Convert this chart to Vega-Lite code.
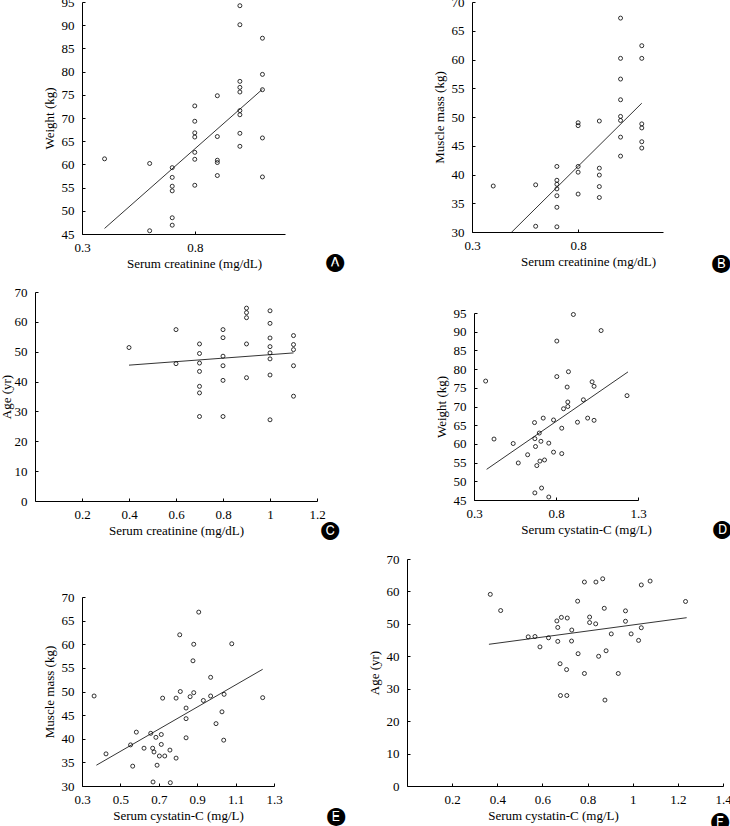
{
  "$schema": "https://vega.github.io/schema/vega-lite/v6.json",
  "padding": {"left": 0, "top": -4, "right": 0, "bottom": 0},
  "background": "white",
  "datasets": {
    "A": [
      {"x":0.4,"y":61.2},{"x":0.6,"y":60.2},{"x":0.6,"y":45.7},
      {"x":0.7,"y":59.3},{"x":0.7,"y":57.2},{"x":0.7,"y":55.3},{"x":0.7,"y":54.3},{"x":0.7,"y":48.5},{"x":0.7,"y":46.9},
      {"x":0.8,"y":72.6},{"x":0.8,"y":69.3},{"x":0.8,"y":66.8},{"x":0.8,"y":65.9},{"x":0.8,"y":62.6},{"x":0.8,"y":61.1},{"x":0.8,"y":55.5},
      {"x":0.9,"y":74.8},{"x":0.9,"y":66.0},{"x":0.9,"y":60.9},{"x":0.9,"y":60.4},{"x":0.9,"y":57.6},
      {"x":1.0,"y":94.2},{"x":1.0,"y":90.1},{"x":1.0,"y":77.9},{"x":1.0,"y":76.6},{"x":1.0,"y":75.6},{"x":1.0,"y":71.6},{"x":1.0,"y":70.7},{"x":1.0,"y":66.7},{"x":1.0,"y":63.9},
      {"x":1.1,"y":87.2},{"x":1.1,"y":79.4},{"x":1.1,"y":76.1},{"x":1.1,"y":65.7},{"x":1.1,"y":57.3}
    ],
    "A_fit": [{"x":0.4,"y":46.2},{"x":1.1,"y":76.2}],
    "B": [
      {"x":0.4,"y":38.0},{"x":0.6,"y":38.2},{"x":0.6,"y":31.0},
      {"x":0.7,"y":41.4},{"x":0.7,"y":39.0},{"x":0.7,"y":38.3},{"x":0.7,"y":37.5},{"x":0.7,"y":36.3},{"x":0.7,"y":34.3},{"x":0.7,"y":30.9},
      {"x":0.8,"y":49.0},{"x":0.8,"y":48.5},{"x":0.8,"y":41.4},{"x":0.8,"y":40.4},{"x":0.8,"y":36.6},
      {"x":0.9,"y":49.3},{"x":0.9,"y":41.1},{"x":0.9,"y":39.9},{"x":0.9,"y":37.9},{"x":0.9,"y":36.0},
      {"x":1.0,"y":67.2},{"x":1.0,"y":60.2},{"x":1.0,"y":56.6},{"x":1.0,"y":53.0},{"x":1.0,"y":50.1},{"x":1.0,"y":49.4},{"x":1.0,"y":46.5},{"x":1.0,"y":43.2},
      {"x":1.1,"y":62.4},{"x":1.1,"y":60.2},{"x":1.1,"y":48.8},{"x":1.1,"y":48.1},{"x":1.1,"y":45.7},{"x":1.1,"y":44.6}
    ],
    "B_fit": [{"x":0.4,"y":26.8},{"x":1.1,"y":52.4}],
    "C": [
      {"x":0.4,"y":51.4},{"x":0.6,"y":57.4},{"x":0.6,"y":46.0},
      {"x":0.7,"y":52.6},{"x":0.7,"y":49.4},{"x":0.7,"y":46.2},{"x":0.7,"y":43.4},{"x":0.7,"y":38.4},{"x":0.7,"y":36.2},{"x":0.7,"y":28.3},
      {"x":0.8,"y":57.4},{"x":0.8,"y":54.7},{"x":0.8,"y":48.5},{"x":0.8,"y":45.3},{"x":0.8,"y":40.4},{"x":0.8,"y":28.3},
      {"x":0.9,"y":64.6},{"x":0.9,"y":63.1},{"x":0.9,"y":61.4},{"x":0.9,"y":52.6},{"x":0.9,"y":41.3},
      {"x":1.0,"y":63.7},{"x":1.0,"y":59.5},{"x":1.0,"y":54.6},{"x":1.0,"y":51.7},{"x":1.0,"y":49.6},{"x":1.0,"y":47.6},{"x":1.0,"y":42.2},{"x":1.0,"y":27.2},
      {"x":1.1,"y":55.4},{"x":1.1,"y":52.4},{"x":1.1,"y":50.7},{"x":1.1,"y":45.3},{"x":1.1,"y":35.1}
    ],
    "C_fit": [{"x":0.4,"y":45.5},{"x":1.1,"y":49.6}],
    "D": [
      {"x":0.371,"y":76.8},{"x":0.422,"y":61.3},{"x":0.539,"y":60.1},{"x":0.570,"y":54.9},{"x":0.627,"y":57.1},
      {"x":0.669,"y":65.7},{"x":0.671,"y":61.4},{"x":0.675,"y":59.3},{"x":0.683,"y":54.2},{"x":0.671,"y":46.9},
      {"x":0.698,"y":62.9},{"x":0.708,"y":60.7},{"x":0.702,"y":55.4},{"x":0.712,"y":48.2},{"x":0.722,"y":66.9},
      {"x":0.730,"y":55.7},{"x":0.756,"y":60.2},{"x":0.756,"y":45.8},{"x":0.785,"y":66.4},{"x":0.785,"y":57.8},
      {"x":0.805,"y":87.5},{"x":0.805,"y":78.0},{"x":0.835,"y":64.2},{"x":0.835,"y":57.4},{"x":0.846,"y":69.4},
      {"x":0.868,"y":75.2},{"x":0.872,"y":71.2},{"x":0.872,"y":70.0},{"x":0.876,"y":79.3},{"x":0.906,"y":94.6},
      {"x":0.931,"y":65.8},{"x":0.967,"y":71.8},{"x":0.993,"y":66.9},{"x":1.020,"y":76.6},{"x":1.032,"y":75.4},
      {"x":1.032,"y":66.3},{"x":1.075,"y":90.3},{"x":1.233,"y":72.9}
    ],
    "D_fit": [{"x":0.377,"y":53.2},{"x":1.239,"y":79.25}],
    "E": [
      {"x":0.363,"y":49.05},{"x":0.425,"y":36.8},{"x":0.553,"y":38.7},{"x":0.564,"y":34.2},{"x":0.583,"y":41.4},
      {"x":0.623,"y":38.0},{"x":0.658,"y":41.15},{"x":0.668,"y":38.0},{"x":0.675,"y":37.2},{"x":0.670,"y":30.85},
      {"x":0.685,"y":40.3},{"x":0.691,"y":34.4},{"x":0.713,"y":40.9},{"x":0.713,"y":38.8},{"x":0.703,"y":36.35},
      {"x":0.731,"y":36.35},{"x":0.720,"y":48.6},{"x":0.758,"y":37.6},{"x":0.760,"y":30.7},{"x":0.790,"y":35.9},
      {"x":0.790,"y":48.6},{"x":0.809,"y":62.0},{"x":0.812,"y":50.0},{"x":0.842,"y":46.5},{"x":0.842,"y":44.25},
      {"x":0.842,"y":40.2},{"x":0.863,"y":48.9},{"x":0.882,"y":60.0},{"x":0.878,"y":56.5},{"x":0.882,"y":49.75},
      {"x":0.908,"y":66.8},{"x":0.932,"y":48.1},{"x":0.970,"y":53.0},{"x":0.970,"y":49.05},{"x":0.998,"y":43.2},
      {"x":1.029,"y":45.7},{"x":1.040,"y":49.4},{"x":1.038,"y":39.7},{"x":1.080,"y":60.1},{"x":1.241,"y":48.7}
    ],
    "E_fit": [{"x":0.375,"y":34.4},{"x":1.241,"y":54.7}],
    "F": [
      {"x":0.369,"y":59.1},{"x":0.415,"y":54.1},{"x":0.537,"y":46.0},{"x":0.567,"y":46.1},{"x":0.589,"y":42.9},
      {"x":0.627,"y":45.7},{"x":0.664,"y":50.9},{"x":0.668,"y":48.9},{"x":0.668,"y":44.6},{"x":0.680,"y":27.9},
      {"x":0.678,"y":37.7},{"x":0.684,"y":52.0},{"x":0.707,"y":35.9},{"x":0.708,"y":27.9},{"x":0.710,"y":51.8},
      {"x":0.730,"y":48.1},{"x":0.729,"y":44.7},{"x":0.756,"y":57.0},{"x":0.758,"y":40.8},{"x":0.786,"y":62.9},
      {"x":0.786,"y":34.7},{"x":0.809,"y":52.1},{"x":0.809,"y":50.4},{"x":0.836,"y":50.0},{"x":0.837,"y":62.9},
      {"x":0.849,"y":40.0},{"x":0.867,"y":63.9},{"x":0.874,"y":54.8},{"x":0.877,"y":26.5},{"x":0.882,"y":41.7},
      {"x":0.905,"y":46.9},{"x":0.936,"y":34.7},{"x":0.968,"y":54.0},{"x":0.968,"y":50.8},{"x":0.993,"y":46.9},
      {"x":1.026,"y":44.9},{"x":1.038,"y":48.8},{"x":1.038,"y":62.0},{"x":1.077,"y":63.2},{"x":1.234,"y":56.9}
    ],
    "F_fit": [{"x":0.363,"y":43.7},{"x":1.239,"y":51.9}]
  },
  "concat": [
    {
      "concat": [
        {"width": 8, "height": 1, "data": {"values": []}, "mark": "point", "encoding": {}},
        {
          "width": 203, "height": 232,
          "title": {"text": "🅐", "orient": "bottom", "anchor": "end", "dx": 59, "dy": -21},
          "layer": [
            {"data": {"name": "A"}, "mark": {"type": "point", "shape": "circle", "filled": false, "size": 16, "stroke": "black", "strokeWidth": 0.8, "opacity": 1},
             "encoding": {
               "x": {"field": "x", "type": "quantitative", "title": "Serum creatinine (mg/dL)", "scale": {"domain": [0.3, 1.2], "nice": false, "zero": false},
                     "axis": {"values": [0.3, 0.8], "tickCount": 50, "format": "~g", "grid": false, "domainColor": "black", "tickColor": "black", "tickSize": -3, "labelFont": "Liberation Serif", "labelFontSize": 13, "labelColor": "black", "labelFlush": false, "labelOverlap": false, "labelPadding": 10, "titleFont": "Liberation Serif", "titleFontSize": 13, "titleFontWeight": "normal", "titleColor": "black", "titlePadding": 3, "titleX": 112}},
               "y": {"field": "y", "type": "quantitative", "title": "Weight (kg)", "scale": {"domain": [45, 95], "nice": false, "zero": false},
                     "axis": {"values": [45,50,55,60,65,70,75,80,85,90,95], "tickCount": 50, "grid": false, "domainColor": "black", "tickColor": "black", "tickSize": -3, "labelFont": "Liberation Serif", "labelFontSize": 13, "labelColor": "black", "labelFlush": false, "labelOverlap": false, "labelPadding": 11, "titleFont": "Liberation Serif", "titleFontSize": 13, "titleFontWeight": "normal", "titleColor": "black", "titlePadding": 5}}}},
            {"data": {"name": "A_fit"}, "mark": {"type": "line", "color": "black", "strokeWidth": 0.8, "clip": true},
             "encoding": {"x": {"field": "x", "type": "quantitative", "title": "Serum creatinine (mg/dL)"}, "y": {"field": "y", "type": "quantitative", "title": "Weight (kg)"}}}
          ]
        },
        {"width": 89, "height": 1, "data": {"values": []}, "mark": "point", "encoding": {}},
        {
          "width": 191, "height": 230,
          "title": {"text": "🅑", "orient": "bottom", "anchor": "end", "dx": 67, "dy": -18},
          "layer": [
            {"data": {"name": "B"}, "mark": {"type": "point", "shape": "circle", "filled": false, "size": 16, "stroke": "black", "strokeWidth": 0.8, "opacity": 1},
             "encoding": {
               "x": {"field": "x", "type": "quantitative", "title": "Serum creatinine (mg/dL)", "scale": {"domain": [0.3, 1.2], "nice": false, "zero": false},
                     "axis": {"values": [0.3, 0.8], "tickCount": 50, "format": "~g", "grid": false, "domainColor": "black", "tickColor": "black", "tickSize": -3, "labelFont": "Liberation Serif", "labelFontSize": 13, "labelColor": "black", "labelFlush": false, "labelOverlap": false, "labelPadding": 10, "titleFont": "Liberation Serif", "titleFontSize": 13, "titleFontWeight": "normal", "titleColor": "black", "titlePadding": 3, "titleX": 116}},
               "y": {"field": "y", "type": "quantitative", "title": "Muscle mass (kg)", "scale": {"domain": [30, 70], "nice": false, "zero": false},
                     "axis": {"values": [30,35,40,45,50,55,60,65,70], "tickCount": 50, "grid": false, "domainColor": "black", "tickColor": "black", "tickSize": -3, "labelFont": "Liberation Serif", "labelFontSize": 13, "labelColor": "black", "labelFlush": false, "labelOverlap": false, "labelPadding": 11, "titleFont": "Liberation Serif", "titleFontSize": 13, "titleFontWeight": "normal", "titleColor": "black", "titlePadding": 5}}}},
            {"data": {"name": "B_fit"}, "mark": {"type": "line", "color": "black", "strokeWidth": 0.8, "clip": true},
             "encoding": {"x": {"field": "x", "type": "quantitative", "title": "Serum creatinine (mg/dL)"}, "y": {"field": "y", "type": "quantitative", "title": "Muscle mass (kg)"}}}
          ]
        }
      ],
      "columns": 4, "align": "none", "spacing": 0
    },
    {
      "concat": [
        {
          "width": 282, "height": 209,
          "title": {"text": "🅒", "orient": "bottom", "anchor": "end", "dx": 14, "dy": -20},
          "layer": [
            {"data": {"name": "C"}, "mark": {"type": "point", "shape": "circle", "filled": false, "size": 16, "stroke": "black", "strokeWidth": 0.8, "opacity": 1},
             "encoding": {
               "x": {"field": "x", "type": "quantitative", "title": "Serum creatinine (mg/dL)", "scale": {"domain": [0, 1.2], "nice": false, "zero": false},
                     "axis": {"values": [0.2, 0.4, 0.6, 0.8, 1, 1.2], "tickCount": 50, "format": "~g", "grid": false, "domainColor": "black", "tickColor": "black", "tickSize": -3, "labelFont": "Liberation Serif", "labelFontSize": 13, "labelColor": "black", "labelFlush": false, "labelOverlap": false, "labelPadding": 10, "titleFont": "Liberation Serif", "titleFontSize": 13, "titleFontWeight": "normal", "titleColor": "black", "titlePadding": 3}},
               "y": {"field": "y", "type": "quantitative", "title": "Age (yr)", "scale": {"domain": [0, 70], "nice": false},
                     "axis": {"values": [0,10,20,30,40,50,60,70], "tickCount": 50, "grid": false, "domainColor": "black", "tickColor": "black", "tickSize": -3, "labelFont": "Liberation Serif", "labelFontSize": 13, "labelColor": "black", "labelFlush": false, "labelOverlap": false, "labelPadding": 11, "titleFont": "Liberation Serif", "titleFontSize": 13, "titleFontWeight": "normal", "titleColor": "black", "titlePadding": 1}}}},
            {"data": {"name": "C_fit"}, "mark": {"type": "line", "color": "black", "strokeWidth": 0.8, "clip": true},
             "encoding": {"x": {"field": "x", "type": "quantitative", "title": "Serum creatinine (mg/dL)"}, "y": {"field": "y", "type": "quantitative", "title": "Age (yr)"}}}
          ]
        },
        {"width": 95, "height": 1, "data": {"values": []}, "mark": "point", "encoding": {}},
        {
          "concat": [
            {"width": 1, "height": 15, "data": {"values": []}, "mark": "point", "encoding": {}},
            {
              "width": 164, "height": 187,
              "title": {"text": "🅓", "orient": "bottom", "anchor": "end", "dx": 80, "dy": -20},
              "layer": [
                {"data": {"name": "D"}, "mark": {"type": "point", "shape": "circle", "filled": false, "size": 16, "stroke": "black", "strokeWidth": 0.8, "opacity": 1},
                 "encoding": {
                   "x": {"field": "x", "type": "quantitative", "title": "Serum cystatin-C (mg/L)", "scale": {"domain": [0.3, 1.3], "nice": false, "zero": false},
                         "axis": {"values": [0.3, 0.8, 1.3], "tickCount": 50, "format": "~g", "grid": false, "domainColor": "black", "tickColor": "black", "tickSize": -3, "labelFont": "Liberation Serif", "labelFontSize": 13, "labelColor": "black", "labelFlush": false, "labelOverlap": false, "labelPadding": 10, "titleFont": "Liberation Serif", "titleFontSize": 13, "titleFontWeight": "normal", "titleColor": "black", "titlePadding": 3, "titleX": 112}},
                   "y": {"field": "y", "type": "quantitative", "title": "Weight (kg)", "scale": {"domain": [45, 95], "nice": false, "zero": false},
                         "axis": {"values": [45,50,55,60,65,70,75,80,85,90,95], "tickCount": 50, "grid": false, "domainColor": "black", "tickColor": "black", "tickSize": -3, "labelFont": "Liberation Serif", "labelFontSize": 13, "labelColor": "black", "labelFlush": false, "labelOverlap": false, "labelPadding": 11, "titleFont": "Liberation Serif", "titleFontSize": 13, "titleFontWeight": "normal", "titleColor": "black", "titlePadding": 5}}}},
                {"data": {"name": "D_fit"}, "mark": {"type": "line", "color": "black", "strokeWidth": 0.8, "clip": true},
                 "encoding": {"x": {"field": "x", "type": "quantitative", "title": "Serum cystatin-C (mg/L)"}, "y": {"field": "y", "type": "quantitative", "title": "Weight (kg)"}}}
              ]
            }
          ],
          "columns": 1, "align": "none", "spacing": 0
        }
      ],
      "columns": 3, "align": "none", "spacing": 0
    },
    {
      "concat": [
        {"width": 8, "height": 1, "data": {"values": []}, "mark": "point", "encoding": {}},
        {
          "concat": [
            {"width": 1, "height": 32, "data": {"values": []}, "mark": "point", "encoding": {}},
            {
              "width": 192, "height": 189,
              "title": {"text": "🅔", "orient": "bottom", "anchor": "end", "dx": 63, "dy": -19},
              "layer": [
                {"data": {"name": "E"}, "mark": {"type": "point", "shape": "circle", "filled": false, "size": 16, "stroke": "black", "strokeWidth": 0.8, "opacity": 1},
                 "encoding": {
                   "x": {"field": "x", "type": "quantitative", "title": "Serum cystatin-C (mg/L)", "scale": {"domain": [0.3, 1.3], "nice": false, "zero": false},
                         "axis": {"values": [0.3, 0.5, 0.7, 0.9, 1.1, 1.3], "tickCount": 50, "format": "~g", "grid": false, "domainColor": "black", "tickColor": "black", "tickSize": -3, "labelFont": "Liberation Serif", "labelFontSize": 13, "labelColor": "black", "labelFlush": false, "labelOverlap": false, "labelPadding": 10, "titleFont": "Liberation Serif", "titleFontSize": 13, "titleFontWeight": "normal", "titleColor": "black", "titlePadding": 3}},
                   "y": {"field": "y", "type": "quantitative", "title": "Muscle mass (kg)", "scale": {"domain": [30, 70], "nice": false, "zero": false},
                         "axis": {"values": [30,35,40,45,50,55,60,65,70], "tickCount": 50, "grid": false, "domainColor": "black", "tickColor": "black", "tickSize": -3, "labelFont": "Liberation Serif", "labelFontSize": 13, "labelColor": "black", "labelFlush": false, "labelOverlap": false, "labelPadding": 11, "titleFont": "Liberation Serif", "titleFontSize": 13, "titleFontWeight": "normal", "titleColor": "black", "titlePadding": 5}}}},
                {"data": {"name": "E_fit"}, "mark": {"type": "line", "color": "black", "strokeWidth": 0.8, "clip": true},
                 "encoding": {"x": {"field": "x", "type": "quantitative", "title": "Serum cystatin-C (mg/L)"}, "y": {"field": "y", "type": "quantitative", "title": "Muscle mass (kg)"}}}
              ]
            }
          ],
          "columns": 1, "align": "none", "spacing": 0
        },
        {"width": 22, "height": 1, "data": {"values": []}, "mark": "point", "encoding": {}},
        {
          "width": 316, "height": 227,
          "title": {"text": "🅕", "orient": "bottom", "anchor": "end", "dx": -2, "dy": -14},
          "layer": [
            {"data": {"name": "F"}, "mark": {"type": "point", "shape": "circle", "filled": false, "size": 16, "stroke": "black", "strokeWidth": 0.8, "opacity": 1},
             "encoding": {
               "x": {"field": "x", "type": "quantitative", "title": "Serum cystatin-C (mg/L)", "scale": {"domain": [0, 1.4], "nice": false, "zero": false},
                     "axis": {"values": [0.2, 0.4, 0.6, 0.8, 1, 1.2, 1.4], "tickCount": 50, "format": "~g", "grid": false, "domainColor": "black", "tickColor": "black", "tickSize": -3, "labelFont": "Liberation Serif", "labelFontSize": 13, "labelColor": "black", "labelFlush": false, "labelOverlap": false, "labelPadding": 10, "titleFont": "Liberation Serif", "titleFontSize": 13, "titleFontWeight": "normal", "titleColor": "black", "titlePadding": 3, "titleX": 146}},
               "y": {"field": "y", "type": "quantitative", "title": "Age (yr)", "scale": {"domain": [0, 70], "nice": false},
                     "axis": {"values": [0,10,20,30,40,50,60,70], "tickCount": 50, "grid": false, "domainColor": "black", "tickColor": "black", "tickSize": -3, "labelFont": "Liberation Serif", "labelFontSize": 13, "labelColor": "black", "labelFlush": false, "labelOverlap": false, "labelPadding": 11, "titleFont": "Liberation Serif", "titleFontSize": 13, "titleFontWeight": "normal", "titleColor": "black", "titlePadding": 5}}}},
            {"data": {"name": "F_fit"}, "mark": {"type": "line", "color": "black", "strokeWidth": 0.8, "clip": true},
             "encoding": {"x": {"field": "x", "type": "quantitative", "title": "Serum cystatin-C (mg/L)"}, "y": {"field": "y", "type": "quantitative", "title": "Age (yr)"}}}
          ]
        }
      ],
      "columns": 4, "align": "none", "spacing": 0
    }
  ],
  "columns": 1, "align": "none", "spacing": 14,
  "config": {
    "view": {"stroke": null},
    "font": "Liberation Serif",
    "title": {"font": "DejaVu Sans", "fontSize": 18, "color": "black", "offset": 0, "fontWeight": "normal"},
    "axis": {
      "grid": false, "domainColor": "black", "tickColor": "black", "tickSize": -3,
      "labelFont": "Liberation Serif", "labelFontSize": 13, "labelColor": "black", "labelFlush": false, "labelOverlap": false,
      "titleFont": "Liberation Serif", "titleFontSize": 13, "titleFontWeight": "normal", "titleColor": "black"
    }
  }
}
